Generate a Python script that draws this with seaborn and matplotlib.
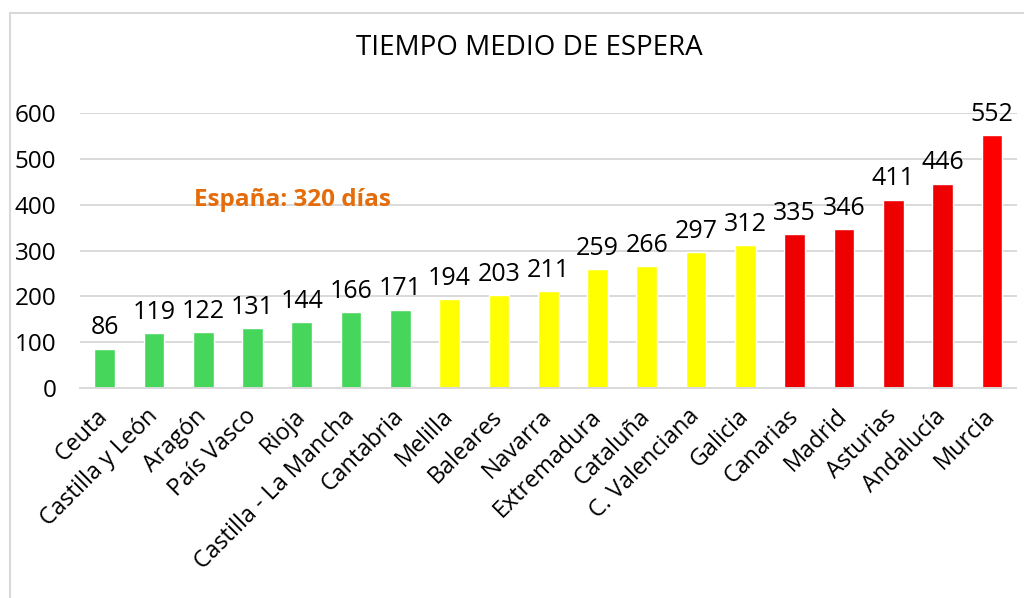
import matplotlib
matplotlib.use("Agg")
import matplotlib.pyplot as plt
import seaborn as sns
import pandas as pd
from matplotlib.patches import Rectangle

regiones = ["Ceuta", "Castilla y León", "Aragón", "País Vasco", "Rioja",
            "Castilla - La Mancha", "Cantabria", "Melilla", "Baleares", "Navarra",
            "Extremadura", "Cataluña", "C. Valenciana", "Galicia", "Canarias",
            "Madrid", "Asturias", "Andalucía", "Murcia"]
dias = [86, 119, 122, 131, 144, 166, 171, 194, 203, 211, 259, 266, 297, 312,
        335, 346, 411, 446, 552]
grupo = ["verde"] * 7 + ["amarillo"] * 7 + ["rojo"] * 4 + ["rojo2"]
colores = {"verde": "#45D65B", "amarillo": "#FFFF00", "rojo": "#EE0000", "rojo2": "#FF0000"}
yticks = [0, 100, 200, 300, 400, 500, 600]
titulo = "TIEMPO MEDIO DE ESPERA"
nota = "España: 320 días"

sns.set_theme(style="white")
plt.rcParams["font.family"] = ["Open Sans", "DejaVu Sans"]

df = pd.DataFrame({"region": regiones, "dias": dias, "grupo": grupo})

fig = plt.figure(figsize=(10.24, 5.98), dpi=100)
ax = fig.add_axes([80 / 1024, 210 / 598, (1016.5 - 80) / 1024, 275 / 598])

sns.barplot(data=df, x="region", y="dias", hue="grupo", palette=colores,
            width=0.42, dodge=False, legend=False, ax=ax, saturation=1)

for c in ax.containers:
    ax.bar_label(c, fmt="%d", padding=6, fontsize=18, color="#000000")

ax.set_xlim(-0.5, len(regiones) - 0.5)
ax.set_ylim(0, 600)
ax.set_yticks(yticks)
ax.set_yticklabels([str(t) for t in yticks], fontsize=17.5, color="#000000")
ax.yaxis.grid(True, color="#D9D9D9", linewidth=1.4)
ax.set_axisbelow(True)
ax.tick_params(axis="y", length=0, pad=17)
ax.tick_params(axis="x", length=0, pad=18)
ax.set_xlabel("")
ax.set_ylabel("")
for s in ["top", "right", "left"]:
    ax.spines[s].set_visible(False)
ax.spines["bottom"].set_color("#D9D9D9")
ax.spines["bottom"].set_linewidth(1.4)

ax.set_xticks(range(len(regiones)))
ax.set_xticklabels(regiones, rotation=45, ha="right", va="center",
                   rotation_mode="anchor", fontsize=16.8, color="#000000")

ax.text(3.8, 410, nota, color="#E46C0A", fontsize=17.5, fontweight="bold",
        ha="center", va="center")

fig.text(529 / 1024, 1 - 48 / 598, titulo, fontsize=20, ha="center", va="center",
         color="#000000")

fig.patches.append(Rectangle((10 / 1024, -0.05), 1.1, 1 - 13 / 598 + 0.05,
                             transform=fig.transFigure, fill=False,
                             edgecolor="#D9D9D9", linewidth=1.5, figure=fig))

fig.savefig("out.png", dpi=100)
